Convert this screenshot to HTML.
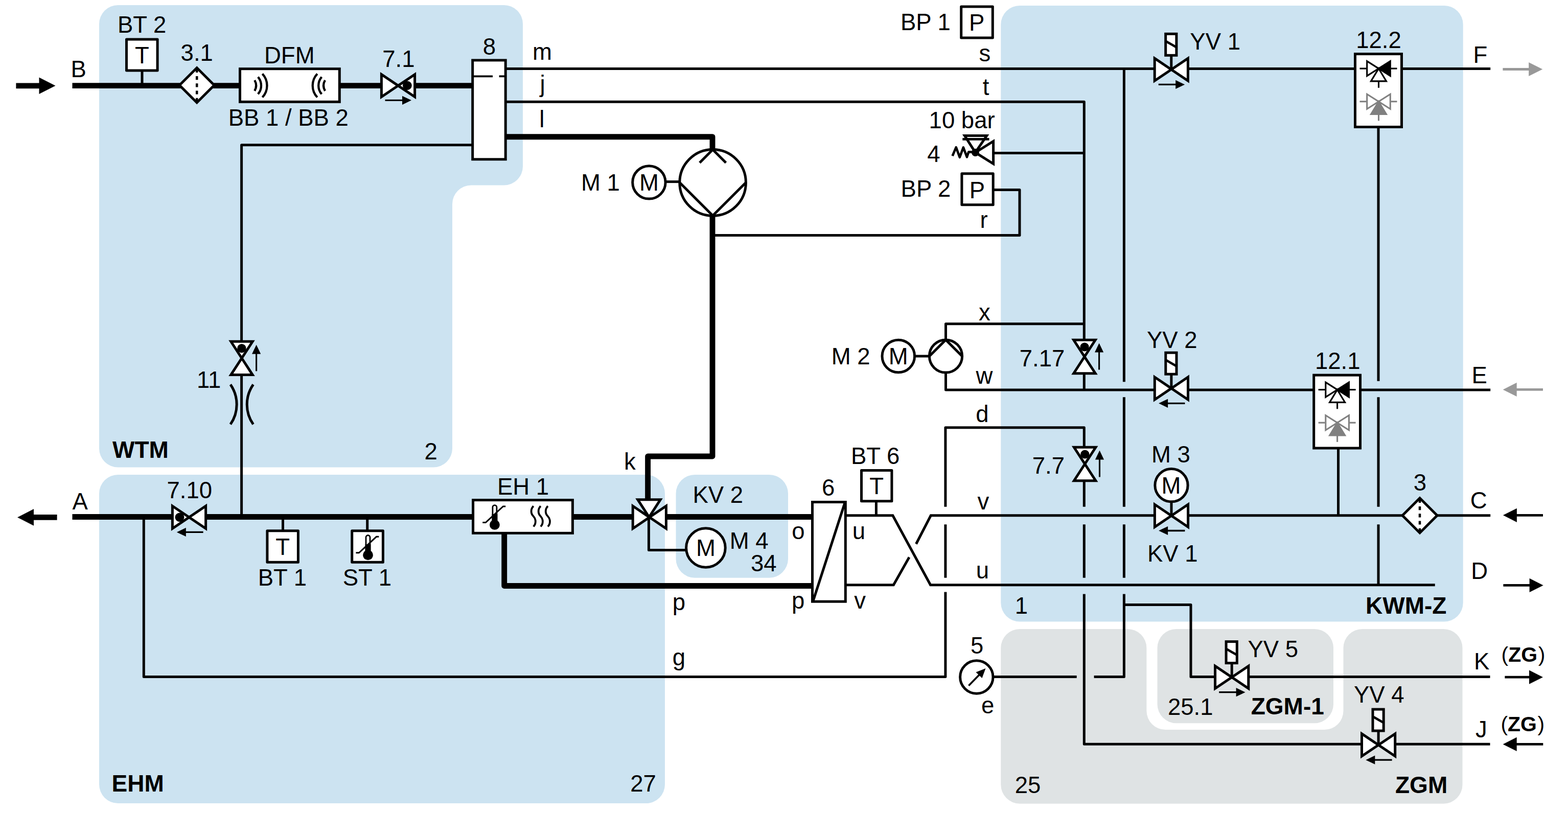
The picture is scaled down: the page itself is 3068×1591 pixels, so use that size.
<!DOCTYPE html>
<html lang="de">
<head>
<meta charset="utf-8">
<title>Hydraulikschema</title>
<style>
html,body{margin:0;padding:0;background:#fff;}
body{width:3068px;height:1591px;}
svg{display:block;}
svg text{font-family:"Liberation Sans",sans-serif;fill:#000;}
</style>
</head>
<body>
<svg width="3068" height="1591" viewBox="0 0 3068 1591">
<rect width="3068" height="1591" fill="#fff"/>
<path fill="#cce3f1" d="M231,10 H986 A37,37 0 0 1 1023,47 V325.5 A37,37 0 0 1 986,362.5 H922 A37,37 0 0 0 885,399.5 V877.5 A37,37 0 0 1 848,914.5 H231 A37,37 0 0 1 194,877.5 V47 A37,37 0 0 1 231,10 Z"/>
<rect x="194" y="929" width="1107" height="643" rx="37" ry="37" fill="#cce3f1"/>
<rect x="1322.5" y="929" width="219.5" height="201.70000000000005" rx="37" ry="37" fill="#cce3f1"/>
<rect x="1958.3" y="11" width="904.3999999999999" height="1205.5" rx="37" ry="37" fill="#cce3f1"/>
<path fill="#dfe3e4" d="M1995.3,1231 H2206.4 A37,37 0 0 1 2243.4,1268 V1391 A37,37 0 0 0 2280.4,1428 H2591.5 A37,37 0 0 0 2628.5,1391 V1268 A37,37 0 0 1 2665.5,1231 H2824.5 A37,37 0 0 1 2861.5,1268 V1535.7 A37,37 0 0 1 2824.5,1572.7 H1995.3 A37,37 0 0 1 1958.3,1535.7 V1268 A37,37 0 0 1 1995.3,1231 Z"/>
<rect x="2264.5" y="1231" width="344.5" height="184.20000000000005" rx="37" ry="37" fill="#dfe3e4"/>
<path d="M141.5,167.6 L748,167.6" fill="none" stroke="#000" stroke-width="10.9" stroke-linejoin="miter" stroke-linecap="butt" />
<path d="M810,167.6 L924,167.6" fill="none" stroke="#000" stroke-width="10.9" stroke-linejoin="miter" stroke-linecap="butt" />
<path d="M990,267.7 L1394,267.7 L1394,295" fill="none" stroke="#000" stroke-width="10.9" stroke-linejoin="round" stroke-linecap="butt" />
<path d="M1394,420 L1394,893 L1267.6,893 L1267.6,978" fill="none" stroke="#000" stroke-width="10.9" stroke-linejoin="round" stroke-linecap="butt" />
<path d="M141.5,1011.5 L339,1011.5" fill="none" stroke="#000" stroke-width="10.9" stroke-linejoin="miter" stroke-linecap="butt" />
<path d="M401,1011.5 L925,1011.5" fill="none" stroke="#000" stroke-width="10.9" stroke-linejoin="miter" stroke-linecap="butt" />
<path d="M1121,1011.5 L1240,1011.5" fill="none" stroke="#000" stroke-width="10.9" stroke-linejoin="miter" stroke-linecap="butt" />
<path d="M1302,1011.5 L1590,1011.5" fill="none" stroke="#000" stroke-width="10.9" stroke-linejoin="miter" stroke-linecap="butt" />
<path d="M986.7,1043 L986.7,1146.5 L1590,1146.5" fill="none" stroke="#000" stroke-width="10.9" stroke-linejoin="round" stroke-linecap="butt" />
<path d="M990,134.5 L2260,134.5" fill="none" stroke="#000" stroke-width="5.0" stroke-linejoin="miter" stroke-linecap="butt" />
<path d="M2325,134.5 L2651,134.5" fill="none" stroke="#000" stroke-width="5.0" stroke-linejoin="miter" stroke-linecap="butt" />
<path d="M2743,134.5 L2916.2,134.5" fill="none" stroke="#000" stroke-width="5.0" stroke-linejoin="miter" stroke-linecap="butt" />
<path d="M990,199.3 L2121.3,199.3 L2121.3,666" fill="none" stroke="#000" stroke-width="5.0" stroke-linejoin="round" stroke-linecap="butt" />
<path d="M1944,299.4 L2121.3,299.4" fill="none" stroke="#000" stroke-width="5.0" stroke-linejoin="miter" stroke-linecap="butt" />
<path d="M924,283.7 L472.6,283.7 L472.6,668" fill="none" stroke="#000" stroke-width="5.0" stroke-linejoin="round" stroke-linecap="butt" />
<path d="M472.6,733 L472.6,1011.5" fill="none" stroke="#000" stroke-width="5.0" stroke-linejoin="miter" stroke-linecap="butt" />
<path d="M281.3,1011.5 L281.3,1324.6 L1849.9,1324.6 L1849.9,1158.5" fill="none" stroke="#000" stroke-width="5.0" stroke-linejoin="round" stroke-linecap="butt" />
<path d="M1849.9,1130.7 L1849.9,1026.3" fill="none" stroke="#000" stroke-width="5.0" stroke-linejoin="miter" stroke-linecap="butt" />
<path d="M1849.9,991.7 L1849.9,836.8 L2121.3,836.8 L2121.3,876" fill="none" stroke="#000" stroke-width="5.0" stroke-linejoin="round" stroke-linecap="butt" />
<path d="M1394,460.6 L1995,460.6 L1995,371.5 L1944,371.5" fill="none" stroke="#000" stroke-width="5.0" stroke-linejoin="round" stroke-linecap="butt" />
<path d="M1850.5,668 L1850.5,633.8 L2121.3,633.8" fill="none" stroke="#000" stroke-width="5.0" stroke-linejoin="round" stroke-linecap="butt" />
<path d="M1850.5,728 L1850.5,763 L2258,763" fill="none" stroke="#000" stroke-width="5.0" stroke-linejoin="round" stroke-linecap="butt" />
<path d="M2121.3,730 L2121.3,763" fill="none" stroke="#000" stroke-width="5.0" stroke-linejoin="miter" stroke-linecap="butt" />
<path d="M2325,763 L2570,763" fill="none" stroke="#000" stroke-width="5.0" stroke-linejoin="miter" stroke-linecap="butt" />
<path d="M2662,763 L2916.2,763" fill="none" stroke="#000" stroke-width="5.0" stroke-linejoin="miter" stroke-linecap="butt" />
<path d="M2199.4,134.5 L2199.4,747.3" fill="none" stroke="#000" stroke-width="5.0" stroke-linejoin="miter" stroke-linecap="butt" />
<path d="M2199.4,777.2 L2199.4,991.7" fill="none" stroke="#000" stroke-width="5.0" stroke-linejoin="miter" stroke-linecap="butt" />
<path d="M2199.4,1026.3 L2199.4,1130.7" fill="none" stroke="#000" stroke-width="5.0" stroke-linejoin="miter" stroke-linecap="butt" />
<path d="M2199.4,1162.5 L2199.4,1324.6 L2140.6,1324.6" fill="none" stroke="#000" stroke-width="5.0" stroke-linejoin="round" stroke-linecap="butt" />
<path d="M2199.4,1183.6 L2330,1183.6 L2330,1324.6 L2377,1324.6" fill="none" stroke="#000" stroke-width="5.0" stroke-linejoin="round" stroke-linecap="butt" />
<path d="M2121.3,940 L2121.3,991.7" fill="none" stroke="#000" stroke-width="5.0" stroke-linejoin="miter" stroke-linecap="butt" />
<path d="M2121.3,1026.3 L2121.3,1130.7" fill="none" stroke="#000" stroke-width="5.0" stroke-linejoin="miter" stroke-linecap="butt" />
<path d="M2121.3,1162.5 L2121.3,1456.2 L2665,1456.2" fill="none" stroke="#000" stroke-width="5.0" stroke-linejoin="round" stroke-linecap="butt" />
<path d="M1944,1324.6 L2106.7,1324.6" fill="none" stroke="#000" stroke-width="5.0" stroke-linejoin="miter" stroke-linecap="butt" />
<path d="M2443,1324.6 L2915.5,1324.6" fill="none" stroke="#000" stroke-width="5.0" stroke-linejoin="miter" stroke-linecap="butt" />
<path d="M2730,1456.2 L2915.5,1456.2" fill="none" stroke="#000" stroke-width="5.0" stroke-linejoin="miter" stroke-linecap="butt" />
<path d="M2697,249 L2697,745.8" fill="none" stroke="#000" stroke-width="5.0" stroke-linejoin="miter" stroke-linecap="butt" />
<path d="M2697,777.2 L2697,991.7" fill="none" stroke="#000" stroke-width="5.0" stroke-linejoin="miter" stroke-linecap="butt" />
<path d="M2697,1026.3 L2697,1144.8" fill="none" stroke="#000" stroke-width="5.0" stroke-linejoin="miter" stroke-linecap="butt" />
<path d="M2618.5,877 L2618.5,1008.8" fill="none" stroke="#000" stroke-width="5.0" stroke-linejoin="miter" stroke-linecap="butt" />
<path d="M1654,1008.8 L1746.8,1008.8 L1820.6,1144.8 L2807.7,1144.8" fill="none" stroke="#000" stroke-width="5.0" stroke-linejoin="miter" stroke-linecap="butt" />
<path d="M1654,1144.8 L1748.3,1144.8 L1779,1090.5" fill="none" stroke="#000" stroke-width="5.0" stroke-linejoin="miter" stroke-linecap="butt" />
<path d="M1792.5,1064.5 L1821.3,1008.8 L2258,1008.8" fill="none" stroke="#000" stroke-width="5.0" stroke-linejoin="miter" stroke-linecap="butt" />
<path d="M2325,1008.8 L2745,1008.8" fill="none" stroke="#000" stroke-width="5.0" stroke-linejoin="miter" stroke-linecap="butt" />
<path d="M2811,1008.8 L2916.2,1008.8" fill="none" stroke="#000" stroke-width="5.0" stroke-linejoin="miter" stroke-linecap="butt" />
<path d="M1269.4,1014 L1269.4,1076.6 L1343,1076.6" fill="none" stroke="#000" stroke-width="5.0" stroke-linejoin="round" stroke-linecap="butt" />
<path d="M31.4,167.8 L79.7,167.8" fill="none" stroke="#000" stroke-width="10.8"/>
<path d="M108.5,167.8 L76.5,151.5 L76.5,184.10000000000002 Z" fill="#000"/>
<path d="M111.6,1012.4 L62.8,1012.4" fill="none" stroke="#000" stroke-width="10.8"/>
<path d="M34,1012.4 L66,996.1 L66,1028.7 Z" fill="#000"/>
<path d="M2940.4,135.5 L2993.8999999999996,135.5" fill="none" stroke="#999" stroke-width="4.8"/>
<path d="M3018.2,135.5 L2991.2,121.9 L2991.2,149.1 Z" fill="#999"/>
<path d="M3019,762.4 L2965.0,762.4" fill="none" stroke="#999" stroke-width="4.8"/>
<path d="M2940.7,762.4 L2967.7,748.8 L2967.7,776.0 Z" fill="#999"/>
<path d="M3019,1008.3 L2965.2000000000003,1008.3" fill="none" stroke="#000" stroke-width="4.8"/>
<path d="M2940.9,1008.3 L2967.9,994.6999999999999 L2967.9,1021.9 Z" fill="#000"/>
<path d="M2941.4,1145.4 L2995.2999999999997,1145.4" fill="none" stroke="#000" stroke-width="4.8"/>
<path d="M3019.6,1145.4 L2992.6,1131.8000000000002 L2992.6,1159.0 Z" fill="#000"/>
<path d="M2944.4,1325.2 L2994.7,1325.2" fill="none" stroke="#000" stroke-width="4.8"/>
<path d="M3019,1325.2 L2992,1311.6000000000001 L2992,1338.8 Z" fill="#000"/>
<path d="M3019.3,1456.4 L2965.0,1456.4" fill="none" stroke="#000" stroke-width="4.8"/>
<path d="M2940.7,1456.4 L2967.7,1442.8000000000002 L2967.7,1470.0 Z" fill="#000"/>
<path d="M278,138 L278,167.6" fill="none" stroke="#000" stroke-width="5.0" stroke-linejoin="miter" stroke-linecap="butt" />
<rect x="247.5" y="77.0" width="60.60000000000002" height="61.0" fill="#fff" stroke="#000" stroke-width="5.0" stroke-linejoin="round"/>
<path d="M351.2,166.7 L385.2,132.7 L419.2,166.7 L385.2,200.7 Z" fill="#fff" stroke="#000" stroke-width="5.0" stroke-linejoin="miter"/>
<path d="M385.2,134.89999999999998 V199.7" stroke="#000" stroke-width="4.5" stroke-dasharray="7.1 7.1" fill="none"/>
<path d="M2744,1008.7 L2778,974.7 L2812,1008.7 L2778,1042.7 Z" fill="#fff" stroke="#000" stroke-width="5.0" stroke-linejoin="miter"/>
<path d="M2778,976.9000000000001 V1041.7" stroke="#000" stroke-width="4.5" stroke-dasharray="7.1 7.1" fill="none"/>
<rect x="469.5" y="134.7" width="194.79999999999995" height="64.60000000000002" fill="#fff" stroke="#000" stroke-width="5" stroke-linejoin="miter"/>
<path d="M498.20,156.95 A20.9,20.9 0 0 1 498.20,177.85" fill="none" stroke="#000" stroke-width="4.3"/>
<path d="M504.80,150.65 A25.7,25.7 0 0 1 504.80,184.15" fill="none" stroke="#000" stroke-width="4.3"/>
<path d="M513.40,144.45 A33.5,33.5 0 0 1 513.40,190.35" fill="none" stroke="#000" stroke-width="4.3"/>
<path d="M636.00,156.95 A20.9,20.9 0 0 0 636.00,177.85" fill="none" stroke="#000" stroke-width="4.3"/>
<path d="M629.40,150.65 A25.7,25.7 0 0 0 629.40,184.15" fill="none" stroke="#000" stroke-width="4.3"/>
<path d="M620.80,144.45 A33.5,33.5 0 0 0 620.80,190.35" fill="none" stroke="#000" stroke-width="4.3"/>
<path d="M746.4,145.6 L811.6,189.6 L811.6,145.6 L746.4,189.6 Z" fill="#fff" stroke="#000" stroke-width="5.0" stroke-linejoin="miter" stroke-miterlimit="10"/>
<circle cx="796.8" cy="167.3" r="8.9" fill="#000"/>
<path d="M753.5,196.3 L790.6,196.3" fill="none" stroke="#000" stroke-width="3.1"/>
<path d="M805,196.3 L787,187.70000000000002 L787,204.9 Z" fill="#000"/>
<rect x="924.7" y="117.9" width="64.5" height="193.9" fill="#fff" stroke="#000" stroke-width="5.0" stroke-linejoin="miter"/>
<path d="M926,149.3 L964,149.3" fill="none" stroke="#000" stroke-width="3.8" stroke-linejoin="miter" stroke-linecap="butt" />
<path d="M976.6,149.3 L988,149.3" fill="none" stroke="#000" stroke-width="3.8" stroke-linejoin="miter" stroke-linecap="butt" />
<circle cx="1394.6" cy="357.4" r="64.8" fill="#fff" stroke="#000" stroke-width="5.0"/>
<path d="M1369,318.6 L1394.6,292.8 L1420.4,318.6" fill="none" stroke="#000" stroke-width="5.0" stroke-linejoin="miter" stroke-linecap="butt" />
<path d="M1329.8,357.2 L1394.6,422 L1459.4,357.2" fill="none" stroke="#000" stroke-width="5.0" stroke-linejoin="miter" stroke-linecap="butt" />
<path d="M1302,355.6 L1329,355.6" fill="none" stroke="#000" stroke-width="5.0" stroke-linejoin="miter" stroke-linecap="butt" />
<circle cx="1269.9" cy="356.9" r="32.2" fill="#fff" stroke="#000" stroke-width="5.0"/>
<path d="M1943.6,276.5 L1943.6,320.5 L1908.4,298.4 Z" fill="#fff" stroke="#000" stroke-width="5.0" stroke-linejoin="miter"/>
<path d="M1887.5,265.6 L1930.7,265.6 L1908.4,298.4 Z" fill="#fff" stroke="#000" stroke-width="5.0" stroke-linejoin="miter"/>
<path d="M1883.3,272.4 L1935.5,272.4" fill="none" stroke="#000" stroke-width="4.6" stroke-linejoin="miter" stroke-linecap="butt" />
<path d="M1863.6,305.2 L1870.7,288.3 L1877.8,307.8 L1884.9,288.5 L1891.9,307.3 L1895.3,297.3 L1903,297.3" fill="none" stroke="#000" stroke-width="4.7" stroke-linejoin="round" stroke-linecap="butt" />
<circle cx="1908.4" cy="298.4" r="7.5" fill="#000"/>
<rect x="1880.7" y="12.9" width="61.59999999999991" height="61.0" fill="#fff" stroke="#000" stroke-width="5.0" stroke-linejoin="round"/>
<rect x="1881.9" y="339.8" width="61.299999999999955" height="61.0" fill="#fff" stroke="#000" stroke-width="5.0" stroke-linejoin="round"/>
<path d="M451.8,668.25 L494.2,733.55 L451.8,733.55 L494.2,668.25 Z" fill="#fff" stroke="#000" stroke-width="5.0" stroke-linejoin="miter" stroke-miterlimit="10"/>
<circle cx="472.9" cy="681.7" r="8.7" fill="#000"/>
<path d="M501.6,726.3 L501.6,689.1" fill="none" stroke="#000" stroke-width="3.1"/>
<path d="M501.6,674.7 L493.0,692.7 L510.20000000000005,692.7 Z" fill="#000"/>
<path d="M450.9,752.5 A68,68 0 0 1 450.9,830.4" fill="none" stroke="#000" stroke-width="5.0"/>
<path d="M495.5,752.5 A68,68 0 0 0 495.5,830.4" fill="none" stroke="#000" stroke-width="5.0"/>
<path d="M337.4,990.3 L402.6,1034.3 L402.6,990.3 L337.4,1034.3 Z" fill="#fff" stroke="#000" stroke-width="5.0" stroke-linejoin="miter" stroke-miterlimit="10"/>
<circle cx="351.5" cy="1012.3" r="8.9" fill="#000"/>
<path d="M397.6,1041.4 L360.2,1041.4" fill="none" stroke="#000" stroke-width="3.1"/>
<path d="M345.8,1041.4 L363.8,1032.8000000000002 L363.8,1050.0 Z" fill="#000"/>
<path d="M553.5,1011.5 L553.5,1038" fill="none" stroke="#000" stroke-width="5.0" stroke-linejoin="miter" stroke-linecap="butt" />
<rect x="522.9" y="1038.7" width="60.5" height="61.59999999999991" fill="#fff" stroke="#000" stroke-width="5.0" stroke-linejoin="round"/>
<path d="M718.7,1011.5 L718.7,1038" fill="none" stroke="#000" stroke-width="5.0" stroke-linejoin="miter" stroke-linecap="butt" />
<rect x="688.7" y="1038.7" width="60.69999999999993" height="61.59999999999991" fill="#fff" stroke="#000" stroke-width="5.0" stroke-linejoin="round"/>
<path d="M716.0,1081.2 V1051.5 A4.0,4.0 0 0 1 724.0,1051.5 V1081.2" fill="#fff" stroke="#000" stroke-width="2.8"/>
<rect x="714.6" y="1065.3" width="10.8" height="18" fill="#000"/>
<circle cx="720" cy="1086.2" r="9.9" fill="#000"/>
<path d="M696.4,1081.8 L702.4,1081.8 L736.5,1050.3 L741.3,1050.3" fill="none" stroke="#000" stroke-width="3" stroke-linejoin="miter" stroke-linecap="butt" />
<rect x="925.6" y="978.6" width="194.80000000000007" height="64.69999999999993" fill="#fff" stroke="#000" stroke-width="5" stroke-linejoin="miter"/>
<path d="M963.9,1021.9000000000001 V992.6 A4.0,4.0 0 0 1 971.9,992.6 V1021.9000000000001" fill="#fff" stroke="#000" stroke-width="2.8"/>
<rect x="962.5" y="1006.0000000000001" width="10.8" height="18" fill="#000"/>
<circle cx="967.9" cy="1026.9" r="9.9" fill="#000"/>
<path d="M944.3,1022.5000000000001 L950.3,1022.5000000000001 L984.4,991.0000000000001 L989.1999999999999,991.0000000000001" fill="none" stroke="#000" stroke-width="3" stroke-linejoin="miter" stroke-linecap="butt" />
<path d="M1043.8,990.4 C1038.1,996 1038.1,1005 1043.8,1010.5 C1049.1,1016 1049.1,1025 1043.8,1030.5" fill="none" stroke="#000" stroke-width="3.8"/>
<path d="M1057.9,990.4 C1052.2,996 1052.2,1005 1057.9,1010.5 C1063.2,1016 1063.2,1025 1057.9,1030.5" fill="none" stroke="#000" stroke-width="3.8"/>
<path d="M1072,990.4 C1066.3,996 1066.3,1005 1072,1010.5 C1077.3,1016 1077.3,1025 1072,1030.5" fill="none" stroke="#000" stroke-width="3.8"/>
<path d="M1247.8,977.7 L1292.2,977.7 L1270,1012 Z" fill="#fff" stroke="#000" stroke-width="5.0" stroke-linejoin="miter" stroke-miterlimit="10"/>
<path d="M1238.2,990.3 L1303.3999999999999,1034.3 L1303.3999999999999,990.3 L1238.2,1034.3 Z" fill="#fff" stroke="#000" stroke-width="5.0" stroke-linejoin="miter" stroke-miterlimit="10"/>
<circle cx="1380.9" cy="1072" r="38.3" fill="#fff" stroke="#000" stroke-width="5.0"/>
<rect x="1589.5" y="982.5" width="64.79999999999995" height="194.70000000000005" fill="#fff" stroke="#000" stroke-width="5.0" stroke-linejoin="miter"/>
<path d="M1590.5,1177.5 L1653.5,982.5" fill="none" stroke="#000" stroke-width="5.0" stroke-linejoin="miter" stroke-linecap="butt" />
<path d="M1714.4,981 L1714.4,1008.8" fill="none" stroke="#000" stroke-width="5.0" stroke-linejoin="miter" stroke-linecap="butt" />
<rect x="1685.5" y="920.4" width="59.40000000000009" height="60.39999999999998" fill="#fff" stroke="#000" stroke-width="5.0" stroke-linejoin="round"/>
<circle cx="1850.5" cy="697" r="32.1" fill="#fff" stroke="#000" stroke-width="5.0"/>
<path d="M1818.5,697 L1850.5,665 L1882.5,697" fill="none" stroke="#000" stroke-width="5.0" stroke-linejoin="miter" stroke-linecap="butt" />
<path d="M1790,697 L1817,697" fill="none" stroke="#000" stroke-width="5.0" stroke-linejoin="miter" stroke-linecap="butt" />
<circle cx="1757.8" cy="697" r="31.799999999999997" fill="#fff" stroke="#000" stroke-width="5.0"/>
<path d="M2100.8,665.35 L2143.2,730.65 L2100.8,730.65 L2143.2,665.35 Z" fill="#fff" stroke="#000" stroke-width="5.0" stroke-linejoin="miter" stroke-miterlimit="10"/>
<circle cx="2122.1" cy="679" r="8.6" fill="#000"/>
<path d="M2150.6,723.5 L2150.6,685.8" fill="none" stroke="#000" stroke-width="3.1"/>
<path d="M2150.6,671.4 L2142.0,689.4 L2159.2,689.4 Z" fill="#000"/>
<path d="M2101.5,875.35 L2143.8999999999996,940.65 L2101.5,940.65 L2143.8999999999996,875.35 Z" fill="#fff" stroke="#000" stroke-width="5.0" stroke-linejoin="miter" stroke-miterlimit="10"/>
<circle cx="2122.8" cy="889" r="8.6" fill="#000"/>
<path d="M2151.5,933.5 L2151.5,895.8" fill="none" stroke="#000" stroke-width="3.1"/>
<path d="M2151.5,881.4 L2142.9,899.4 L2160.1,899.4 Z" fill="#000"/>
<path d="M2259.2000000000003,114.1 L2324.4,158.1 L2324.4,114.1 L2259.2000000000003,158.1 Z" fill="#fff" stroke="#000" stroke-width="5.0" stroke-linejoin="miter" stroke-miterlimit="10"/>
<path d="M2291.8,110.1 L2291.8,135.1" fill="none" stroke="#000" stroke-width="5.0" stroke-linejoin="miter" stroke-linecap="butt" />
<rect x="2280.7000000000003" y="66.3" width="21.199999999999818" height="42.0" fill="#fff" stroke="#000" stroke-width="5.0" stroke-linejoin="miter"/>
<path d="M2281.7000000000003,81.0 L2300.9,92.0" fill="none" stroke="#000" stroke-width="4.6" stroke-linejoin="miter" stroke-linecap="butt" />
<path d="M2266.8,165.4 L2303.8,165.4" fill="none" stroke="#000" stroke-width="3.3"/>
<path d="M2318.2000000000003,165.4 L2300.2000000000003,156.8 L2300.2000000000003,174.0 Z" fill="#000"/>
<path d="M2259.3,738 L2324.5,782 L2324.5,738 L2259.3,782 Z" fill="#fff" stroke="#000" stroke-width="5.0" stroke-linejoin="miter" stroke-miterlimit="10"/>
<path d="M2291.9,734 L2291.9,759" fill="none" stroke="#000" stroke-width="5.0" stroke-linejoin="miter" stroke-linecap="butt" />
<rect x="2280.8" y="690.2" width="21.199999999999818" height="42.0" fill="#fff" stroke="#000" stroke-width="5.0" stroke-linejoin="miter"/>
<path d="M2281.8,704.9000000000001 L2301.0,715.9000000000001" fill="none" stroke="#000" stroke-width="4.6" stroke-linejoin="miter" stroke-linecap="butt" />
<path d="M2318.4,789.3 L2281.5,789.3" fill="none" stroke="#000" stroke-width="3.3"/>
<path d="M2267.1,789.3 L2285.1,780.6999999999999 L2285.1,797.9 Z" fill="#000"/>
<path d="M2377.6,1303.4 L2442.7999999999997,1347.4 L2442.7999999999997,1303.4 L2377.6,1347.4 Z" fill="#fff" stroke="#000" stroke-width="5.0" stroke-linejoin="miter" stroke-miterlimit="10"/>
<path d="M2410.2,1299.4 L2410.2,1324.4" fill="none" stroke="#000" stroke-width="5.0" stroke-linejoin="miter" stroke-linecap="butt" />
<rect x="2399.1" y="1255.6000000000001" width="21.199999999999818" height="42.0" fill="#fff" stroke="#000" stroke-width="5.0" stroke-linejoin="miter"/>
<path d="M2400.1,1270.3000000000002 L2419.2999999999997,1281.3000000000002" fill="none" stroke="#000" stroke-width="4.6" stroke-linejoin="miter" stroke-linecap="butt" />
<path d="M2385.2,1354.7 L2422.2,1354.7" fill="none" stroke="#000" stroke-width="3.3"/>
<path d="M2436.6,1354.7 L2418.6,1346.1000000000001 L2418.6,1363.3 Z" fill="#000"/>
<path d="M2664.5,1435.9 L2729.7,1479.9 L2729.7,1435.9 L2664.5,1479.9 Z" fill="#fff" stroke="#000" stroke-width="5.0" stroke-linejoin="miter" stroke-miterlimit="10"/>
<path d="M2697.1,1431.9 L2697.1,1456.9" fill="none" stroke="#000" stroke-width="5.0" stroke-linejoin="miter" stroke-linecap="butt" />
<rect x="2686.0" y="1388.1000000000001" width="21.199999999999818" height="42.0" fill="#fff" stroke="#000" stroke-width="5.0" stroke-linejoin="miter"/>
<path d="M2687.0,1402.8000000000002 L2706.2,1413.8000000000002" fill="none" stroke="#000" stroke-width="4.6" stroke-linejoin="miter" stroke-linecap="butt" />
<path d="M2723.6,1487.2 L2686.7,1487.2" fill="none" stroke="#000" stroke-width="3.3"/>
<path d="M2672.2999999999997,1487.2 L2690.2999999999997,1478.6000000000001 L2690.2999999999997,1495.8 Z" fill="#000"/>
<path d="M2259.4,987.2 L2324.6,1031.2 L2324.6,987.2 L2259.4,1031.2 Z" fill="#fff" stroke="#000" stroke-width="5.0" stroke-linejoin="miter" stroke-miterlimit="10"/>
<path d="M2292,983 L2292,1008" fill="none" stroke="#000" stroke-width="5.0" stroke-linejoin="miter" stroke-linecap="butt" />
<circle cx="2292" cy="949.7" r="32.1" fill="#fff" stroke="#000" stroke-width="5.0"/>
<path d="M2318.4,1038.5 L2281.5,1038.5" fill="none" stroke="#000" stroke-width="3.3"/>
<path d="M2267.1,1038.5 L2285.1,1029.9 L2285.1,1047.1 Z" fill="#000"/>
<rect x="2651.5" y="105.6" width="91" height="142.9" fill="#fff" stroke="#000" stroke-width="5" stroke-linejoin="miter"/>
<path d="M2660.5,134.1 L2673.5,134.1" fill="none" stroke="#000" stroke-width="3.1" stroke-linejoin="miter" stroke-linecap="butt" />
<path d="M2721.5,134.1 L2733.5,134.1" fill="none" stroke="#000" stroke-width="3.1" stroke-linejoin="miter" stroke-linecap="butt" />
<path d="M2674.7,119.6 L2697.5,134.1 L2674.7,148.6 Z" fill="#fff" stroke="#000" stroke-width="3.1" stroke-linejoin="miter"/>
<path d="M2720.3,119.6 L2697.5,134.1 L2720.3,148.6 Z" fill="#000" stroke="#000" stroke-width="3.1" stroke-linejoin="miter"/>
<path d="M2682.5,158.9 L2697.5,134.1 L2712.5,158.9 Z" fill="#fff" stroke="#000" stroke-width="3.1" stroke-linejoin="miter"/>
<path d="M2697.5,159.1 L2697.5,171.8" fill="none" stroke="#000" stroke-width="3.1" stroke-linejoin="miter" stroke-linecap="butt" />
<path d="M2660.5,198.7 L2673.5,198.7" fill="none" stroke="#808080" stroke-width="3.1" stroke-linejoin="miter" stroke-linecap="butt" />
<path d="M2721.5,198.7 L2733.5,198.7" fill="none" stroke="#808080" stroke-width="3.1" stroke-linejoin="miter" stroke-linecap="butt" />
<path d="M2674.7,184.2 L2697.5,198.7 L2674.7,213.2 Z" fill="#fff" stroke="#808080" stroke-width="3.1" stroke-linejoin="miter"/>
<path d="M2720.3,184.2 L2697.5,198.7 L2720.3,213.2 Z" fill="#fff" stroke="#808080" stroke-width="3.1" stroke-linejoin="miter"/>
<path d="M2682.5,223.5 L2697.5,198.7 L2712.5,223.5 Z" fill="#808080" stroke="#808080" stroke-width="3.1" stroke-linejoin="miter"/>
<path d="M2697.5,223.7 L2697.5,236.39999999999998" fill="none" stroke="#808080" stroke-width="3.1" stroke-linejoin="miter" stroke-linecap="butt" />
<rect x="2570.7" y="734.1" width="90.80000000000018" height="142.89999999999998" fill="#fff" stroke="#000" stroke-width="5" stroke-linejoin="miter"/>
<path d="M2579.6,762.6 L2592.6,762.6" fill="none" stroke="#000" stroke-width="3.1" stroke-linejoin="miter" stroke-linecap="butt" />
<path d="M2640.6,762.6 L2652.6,762.6" fill="none" stroke="#000" stroke-width="3.1" stroke-linejoin="miter" stroke-linecap="butt" />
<path d="M2593.7999999999997,748.1 L2616.6,762.6 L2593.7999999999997,777.1 Z" fill="#fff" stroke="#000" stroke-width="3.1" stroke-linejoin="miter"/>
<path d="M2639.4,748.1 L2616.6,762.6 L2639.4,777.1 Z" fill="#000" stroke="#000" stroke-width="3.1" stroke-linejoin="miter"/>
<path d="M2601.6,787.4 L2616.6,762.6 L2631.6,787.4 Z" fill="#fff" stroke="#000" stroke-width="3.1" stroke-linejoin="miter"/>
<path d="M2616.6,787.6 L2616.6,800.3000000000001" fill="none" stroke="#000" stroke-width="3.1" stroke-linejoin="miter" stroke-linecap="butt" />
<path d="M2579.6,827.2 L2592.6,827.2" fill="none" stroke="#808080" stroke-width="3.1" stroke-linejoin="miter" stroke-linecap="butt" />
<path d="M2640.6,827.2 L2652.6,827.2" fill="none" stroke="#808080" stroke-width="3.1" stroke-linejoin="miter" stroke-linecap="butt" />
<path d="M2593.7999999999997,812.7 L2616.6,827.2 L2593.7999999999997,841.7 Z" fill="#fff" stroke="#808080" stroke-width="3.1" stroke-linejoin="miter"/>
<path d="M2639.4,812.7 L2616.6,827.2 L2639.4,841.7 Z" fill="#fff" stroke="#808080" stroke-width="3.1" stroke-linejoin="miter"/>
<path d="M2601.6,852.0 L2616.6,827.2 L2631.6,852.0 Z" fill="#808080" stroke="#808080" stroke-width="3.1" stroke-linejoin="miter"/>
<path d="M2616.6,852.2 L2616.6,864.9000000000001" fill="none" stroke="#808080" stroke-width="3.1" stroke-linejoin="miter" stroke-linecap="butt" />
<circle cx="1910.8" cy="1325" r="32.2" fill="#fff" stroke="#000" stroke-width="5.0"/>
<path d="M1895.4,1341.7 L1919,1317.5" fill="none" stroke="#000" stroke-width="3.6" stroke-linejoin="miter" stroke-linecap="butt" />
<path d="M1928.5,1308 L1909.5,1315.5 L1921.5,1327 Z" fill="#000"/>
<text x="138.5" y="150.9" font-size="45.5">B</text>
<text x="230.0" y="64.4" font-size="45.5">BT 2</text>
<text x="353.6" y="118.8" font-size="45.5">3.1</text>
<text x="517.0" y="123.5" font-size="45.5">DFM</text>
<text x="446.7" y="245.6" font-size="45.5">BB 1 / BB 2</text>
<text x="748.3" y="130.5" font-size="45.5">7.1</text>
<text x="944.8" y="106.6" font-size="45.5">8</text>
<text x="1042.0" y="117.3" font-size="45.5">m</text>
<text x="1056.6" y="180" font-size="45.5">j</text>
<text x="1055.3" y="249.3" font-size="45.5">l</text>
<text x="1137.0" y="372.5" font-size="45.5">M 1</text>
<text x="1762.0" y="58.8" font-size="45.5">BP 1</text>
<text x="1762.6" y="385" font-size="45.5">BP 2</text>
<text x="1915.5" y="120" font-size="45.5">s</text>
<text x="1922.8" y="185.5" font-size="45.5">t</text>
<text x="1817.6" y="250.5" font-size="45.5">10 bar</text>
<text x="1814.3" y="316.5" font-size="45.5">4</text>
<text x="1917.6" y="445.6" font-size="45.5">r</text>
<text x="1915.0" y="627.2" font-size="45.5">x</text>
<text x="1909.6" y="751.4" font-size="45.5">w</text>
<text x="1909.2" y="825.9" font-size="45.5">d</text>
<text x="1912.4" y="997.4" font-size="45.5">v</text>
<text x="1909.8" y="1131.6" font-size="45.5">u</text>
<text x="1626.8" y="712.8" font-size="45.5">M 2</text>
<text x="1994.7" y="716.8" font-size="45.5">7.17</text>
<text x="2019.8" y="927.3" font-size="45.5">7.7</text>
<text x="2328.3" y="97.4" font-size="45.5">YV 1</text>
<text x="2244.0" y="680.7" font-size="45.5">YV 2</text>
<text x="2653.2" y="94.3" font-size="45.5">12.2</text>
<text x="2573.0" y="722.2" font-size="45.5">12.1</text>
<text x="2882.6" y="123" font-size="45.5">F</text>
<text x="2879.5" y="749.5" font-size="45.5">E</text>
<text x="2876.8" y="994.9" font-size="45.5">C</text>
<text x="2878.2" y="1132.6" font-size="45.5">D</text>
<text x="2765.8" y="959.7" font-size="45.5">3</text>
<text x="2253.0" y="905.3" font-size="45.5">M 3</text>
<text x="2245.0" y="1098.6" font-size="45.5">KV 1</text>
<text x="1985.8" y="1200.8" font-size="45.5">1</text>
<text x="385.0" y="759.3" font-size="45.5">11</text>
<text x="326.5" y="974.5" font-size="45.5">7.10</text>
<text x="141.5" y="996.5" font-size="45.5">A</text>
<text x="504.7" y="1145.8" font-size="45.5">BT 1</text>
<text x="670.7" y="1145.8" font-size="45.5">ST 1</text>
<text x="973.0" y="967.5" font-size="45.5">EH 1</text>
<text x="830.6" y="899" font-size="45.5">2</text>
<text x="1221.0" y="918.8" font-size="45.5">k</text>
<text x="1355.5" y="984.4" font-size="45.5">KV 2</text>
<text x="1427.8" y="1074.4" font-size="45.5">M 4</text>
<text x="1469.0" y="1118.2" font-size="45.5">34</text>
<text x="1315.7" y="1194" font-size="45.5">p</text>
<text x="1315.7" y="1301.5" font-size="45.5">g</text>
<text x="1233.3" y="1549.2" font-size="45.5">27</text>
<text x="1608.0" y="969.7" font-size="45.5">6</text>
<text x="1549.3" y="1054.5" font-size="45.5">o</text>
<text x="1548.9" y="1190.8" font-size="45.5">p</text>
<text x="1667.7" y="1054.5" font-size="45.5">u</text>
<text x="1671.3" y="1190.6" font-size="45.5">v</text>
<text x="1665.0" y="907.8" font-size="45.5">BT 6</text>
<text x="1899.0" y="1278.5" font-size="45.5">5</text>
<text x="1920.0" y="1396" font-size="45.5">e</text>
<text x="1985.8" y="1552.3" font-size="45.5">25</text>
<text x="2284.9" y="1398.9" font-size="45.5">25.1</text>
<text x="2441.5" y="1286.4" font-size="45.5">YV 5</text>
<text x="2649.0" y="1375.3" font-size="45.5">YV 4</text>
<text x="2883.9" y="1309.6" font-size="45.5">K</text>
<text x="2887.0" y="1443.4" font-size="45.5">J</text>
<text x="220.0" y="895.9" font-size="46" font-weight="bold">WTM</text>
<text x="218.6" y="1549.2" font-size="46" font-weight="bold">EHM</text>
<text x="2672.0" y="1200.8" font-size="46" font-weight="bold">KWM-Z</text>
<text x="2447.7" y="1398" font-size="46" font-weight="bold">ZGM-1</text>
<text x="2730.0" y="1552.3" font-size="46" font-weight="bold">ZGM</text>
<text x="264.0" y="123.5" font-size="45.5">T</text>
<text x="539.2" y="1085.5" font-size="45.5">T</text>
<text x="1701.2" y="966.6" font-size="45.5">T</text>
<text x="1896.0" y="60.0" font-size="45.5">P</text>
<text x="1896.7" y="387.8" font-size="45.5">P</text>
<text x="1250.9" y="372.9" font-size="45.5">M</text>
<text x="1738.8" y="713.0" font-size="45.5">M</text>
<text x="2272.6" y="966.0" font-size="45.5">M</text>
<text x="1361.9" y="1088.3" font-size="45.5">M</text>
<text x="2937.5" y="1294.6" font-size="41">(<tspan font-weight="bold">ZG</tspan><tspan dx="1.6">)</tspan></text>
<text x="2936.4" y="1431.3" font-size="41">(<tspan font-weight="bold">ZG</tspan><tspan dx="1.6">)</tspan></text>
</svg>
</body>
</html>
